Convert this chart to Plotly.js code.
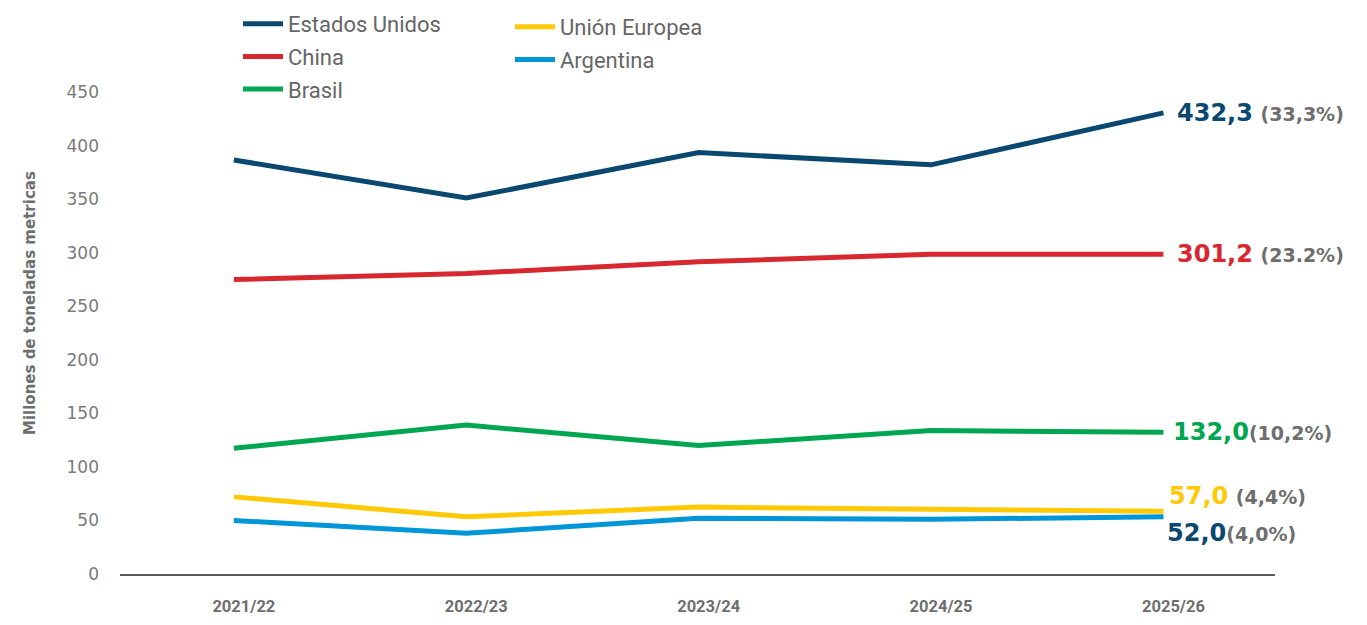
<!DOCTYPE html>
<html>
<head>
<meta charset="utf-8">
<script src="https://cdn.plot.ly/plotly-3.0.1.min.js"></script>
<style>html,body{margin:0;padding:0;background:#fff;}#chart{width:1367px;height:625px;}</style>
</head>
<body>
<div id="chart"></div>
<script>
// ---- data ----
const categories = ['2021/22', '2022/23', '2023/24', '2024/25', '2025/26'];
const seriesNames = ['Estados Unidos', 'China', 'Brasil', 'Unión Europea', 'Argentina'];
const estadosUnidos = [386.5, 351, 393.5, 382, 430.5];
const china = [275, 280.5, 291.5, 298.5, 298.5];
const brasil = [117.5, 139, 120, 134, 132.3];
const unionEuropea = [72, 53.5, 62.5, 60.5, 58.5];
const argentina = [50, 38, 52, 51, 53.5];
const endValueLabels = ['432,3', '301,2', '132,0', '57,0', '52,0'];
const endShareLabels = ['(33,3%)', '(23.2%)', '(10,2%)', '(4,4%)', '(4,0%)'];
const yTicks = [0, 50, 100, 150, 200, 250, 300, 350, 400, 450];

// ---- styles ----
const lineColors = ['#0b4870', '#d7282f', '#00a650', '#ffca05', '#0096d8'];
const labelColors = ['#0b4870', '#d7282f', '#00a650', '#ffca05', '#0b4870'];
const labelShifts = [0, 0, 0, 15, -16];
const labelXShift = [12, 12, 8, 4, 2];
const labelGap = ['&nbsp;', '&nbsp;', '', '&nbsp;', ''];
const legendOf = ['legend', 'legend', 'legend', 'legend2', 'legend2'];
const values = [estadosUnidos, china, brasil, unionEuropea, argentina];

const traces = values.map((v, i) => ({
  type: 'scatter', mode: 'lines', x: categories, y: v, name: seriesNames[i],
  line: {color: lineColors[i], width: 5},
  legend: legendOf[i], legendgroup: 'g' + i, hoverinfo: 'skip'
}));

const annotations = values.map((v, i) => ({
  x: categories[categories.length - 1], y: v[v.length - 1], xref: 'x', yref: 'y',
  xanchor: 'left', yanchor: 'middle', xshift: labelXShift[i], yshift: labelShifts[i],
  showarrow: false,
  text: '<b>' + endValueLabels[i] + '</b>' + labelGap[i] + '<span style="font-size:19px;color:#6e6e6e"><b>' + endShareLabels[i] + '</b></span>',
  font: {family: 'DejaVu Sans', size: 24, color: labelColors[i]}
}));
annotations.push({
  xref: 'paper', yref: 'paper', x: -0.078, y: 0.562, xanchor: 'center', yanchor: 'middle',
  textangle: -90, showarrow: false, text: '<b>Millones de toneladas metricas</b>',
  font: {family: 'DejaVu Sans', size: 15, color: '#6e6e6e'}
});

const legendBase = {
  orientation: 'v', xref: 'container', yref: 'container', xanchor: 'left', yanchor: 'top',
  font: {family: 'Roboto', size: 22, color: '#666'}, bgcolor: 'rgba(0,0,0,0)',
  borderwidth: 0, itemwidth: 40, tracegroupgap: 1, itemclick: false, itemdoubleclick: false
};

const layout = {
  width: 1367, height: 625,
  margin: {l: 120, r: 92, t: 92, b: 51, autoexpand: false},
  paper_bgcolor: '#fff', plot_bgcolor: '#fff',
  showlegend: true,
  legend: Object.assign({}, legendBase, {x: 238 / 1367, y: 1 - 3 / 625}),
  legend2: Object.assign({}, legendBase, {x: 510 / 1367, y: 1 - 6 / 625}),
  xaxis: {
    type: 'category', range: [-0.49, 4.48], showgrid: false, zeroline: false,
    showline: true, linecolor: '#5a5a5a', linewidth: 2, ticks: '',
    ticklabelstandoff: 16, ticklabelshift: 10,
    tickfont: {family: 'Roboto', size: 16.5, color: '#6e6e6e', weight: 'bold'}
  },
  yaxis: {
    range: [0, 450], tickvals: yTicks, showgrid: false, zeroline: false, showline: false,
    ticks: '', ticklabelstandoff: 20,
    tickfont: {family: 'DejaVu Sans', size: 17, color: '#7a7a7a'}
  },
  annotations: annotations
};

Plotly.newPlot('chart', traces, layout, {displayModeBar: false, staticPlot: true});
</script>
</body>
</html>
